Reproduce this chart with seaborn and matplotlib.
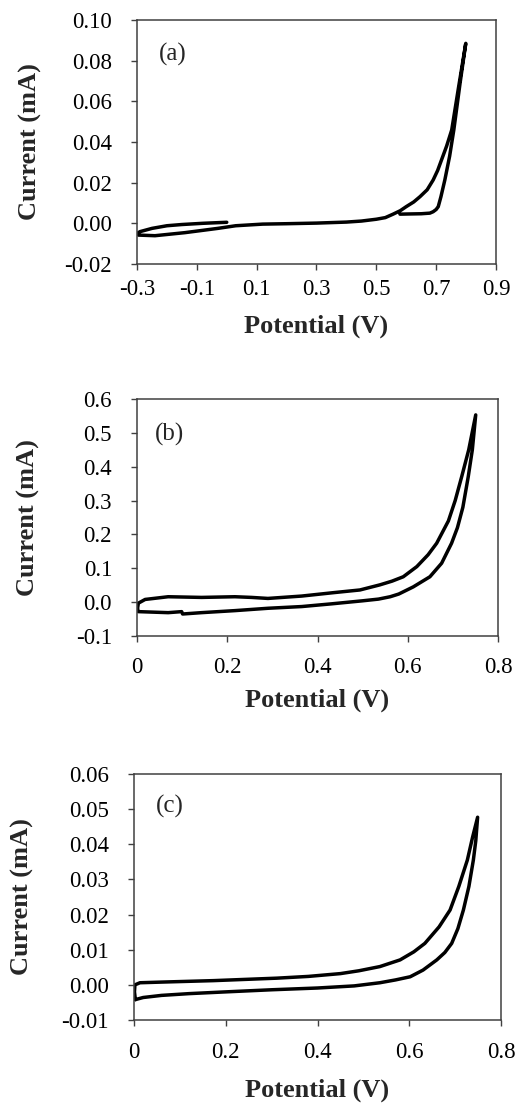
import matplotlib
matplotlib.use("Agg")
import matplotlib.pyplot as plt
import seaborn as sns
import pandas as pd

# cyclic voltammograms (potential in V, current in mA)
pot_a = [0.00, -0.08, -0.15, -0.20, -0.25, -0.29, -0.30,
         -0.295, -0.24, -0.14, -0.03, 0.03, 0.12, 0.20, 0.30, 0.40, 0.45, 0.50, 0.53,
         0.556, 0.58, 0.60, 0.625, 0.646, 0.67, 0.69, 0.705, 0.72, 0.735, 0.752, 0.775, 0.799,
         0.78, 0.759, 0.745, 0.729, 0.716, 0.707, 0.700, 0.690, 0.679, 0.65, 0.612, 0.579]
cur_a = [0.0005, 0.0000, -0.0006, -0.0012, -0.0025, -0.0041, -0.0050,
         -0.0058, -0.0061, -0.0046, -0.0025, -0.0012, -0.0004, -0.0002, 0.0001, 0.0006, 0.0011, 0.0020, 0.0028,
         0.0045, 0.0062, 0.0082, 0.0105, 0.0131, 0.0165, 0.0213, 0.0260, 0.0320, 0.0380, 0.0459, 0.0670, 0.0885,
         0.0690, 0.0459, 0.0330, 0.0213, 0.0131, 0.0082, 0.0068, 0.0057, 0.0050, 0.0047, 0.0046, 0.0045]

pot_b = [0.001, 0.003, 0.069, 0.099, 0.101, 0.143, 0.217, 0.291, 0.365, 0.431, 0.50, 0.535, 0.561, 0.58, 0.612,
         0.649, 0.675, 0.697, 0.71, 0.722, 0.734, 0.743, 0.7505,
         0.735, 0.7195, 0.705, 0.69, 0.664, 0.645, 0.62, 0.59, 0.565, 0.538, 0.494, 0.435, 0.365, 0.29, 0.254,
         0.217, 0.143, 0.069, 0.018, 0.003, 0.001]
cur_b = [-0.020, -0.028, -0.031, -0.028, -0.035, -0.031, -0.025, -0.018, -0.013, -0.005, 0.004, 0.009, 0.016, 0.024, 0.045,
         0.075, 0.115, 0.174, 0.220, 0.280, 0.371, 0.450, 0.553,
         0.450, 0.371, 0.300, 0.240, 0.174, 0.140, 0.105, 0.075, 0.062, 0.051, 0.036, 0.028, 0.018, 0.011, 0.014,
         0.016, 0.014, 0.016, 0.008, -0.003, -0.020]

pot_c = [0.003, 0.02, 0.06, 0.12, 0.20, 0.30, 0.40, 0.48, 0.536, 0.57, 0.602, 0.63, 0.66, 0.6775, 0.6925, 0.706,
         0.718, 0.73, 0.7397, 0.745, 0.749,
         0.738, 0.7266, 0.708, 0.689, 0.665, 0.634, 0.61, 0.58, 0.536, 0.49, 0.45, 0.38, 0.311, 0.173, 0.064,
         0.013, 0.002, 0.001, 0.003]
cur_c = [-0.0042, -0.0036, -0.0030, -0.0025, -0.0020, -0.0014, -0.0009, -0.0003, 0.0006, 0.0014, 0.0023, 0.0042,
         0.0071, 0.0092, 0.0118, 0.0160, 0.0213, 0.0280, 0.0355, 0.0410, 0.0477,
         0.0420, 0.0355, 0.0280, 0.0213, 0.0165, 0.0118, 0.0094, 0.0071, 0.0052, 0.0040, 0.0032, 0.0024, 0.0019,
         0.0012, 0.0008, 0.0006, 0.0000, -0.0020, -0.0042]

xticks_a = [-0.3, -0.1, 0.1, 0.3, 0.5, 0.7, 0.9]
xlabels_a = ["-0.3", "-0.1", "0.1", "0.3", "0.5", "0.7", "0.9"]
yticks_a = [-0.02, 0.00, 0.02, 0.04, 0.06, 0.08, 0.10]
ylabels_a = ["-0.02", "0.00", "0.02", "0.04", "0.06", "0.08", "0.10"]

xticks_bc = [0, 0.2, 0.4, 0.6, 0.8]
xlabels_bc = ["0", "0.2", "0.4", "0.6", "0.8"]
yticks_b = [-0.1, 0.0, 0.1, 0.2, 0.3, 0.4, 0.5, 0.6]
ylabels_b = ["-0.1", "0.0", "0.1", "0.2", "0.3", "0.4", "0.5", "0.6"]
yticks_c = [-0.01, 0.00, 0.01, 0.02, 0.03, 0.04, 0.05, 0.06]
ylabels_c = ["-0.01", "0.00", "0.01", "0.02", "0.03", "0.04", "0.05", "0.06"]

sns.set_theme(style="ticks")
plt.rcParams['font.family'] = ['Liberation Serif', 'DejaVu Serif']
plt.rcParams['axes.unicode_minus'] = False

fig = plt.figure(figsize=(5.18, 11.04), dpi=100)

# tag, data, axes rect, ticks, tag position, x tick pad, xlabel pad, ylabel right edge (px)
panels = [
    ("(a)", pot_a, cur_a, [0.2645, 0.7609, 0.693, 0.221], xticks_a, xlabels_a, yticks_a, ylabels_a,
     (0.06, 0.86), 7, 10, 42),
    ("(b)", pot_b, cur_b, [0.2645, 0.4239, 0.697, 0.2147], xticks_bc, xlabels_bc, yticks_b, ylabels_b,
     (0.05, 0.85), 11, 8, 40),
    ("(c)", pot_c, cur_c, [0.2587, 0.0761, 0.7085, 0.2228], xticks_bc, xlabels_bc, yticks_c, ylabels_c,
     (0.06, 0.87), 12, 11, 34),
]

for tag, px, cy, rect, xt, xl, yt, yl, tpos, xpad, xlpad, ylx in panels:
    ax = fig.add_axes(rect)
    df = pd.DataFrame({"Potential": px, "Current": cy})
    sns.lineplot(data=df, x="Potential", y="Current", sort=False, estimator=None,
                 color="black", lw=2.5, ax=ax, solid_joinstyle="round", solid_capstyle="round")
    ax.set_xlim(xt[0], xt[-1])
    ax.set_ylim(yt[0], yt[-1])
    ax.set_xticks(xt)
    ax.set_xticklabels(xl)
    ax.set_yticks(yt)
    ax.set_yticklabels(yl)
    ax.tick_params(axis="both", direction="out", length=4, width=1.0, color="#404040",
                   labelsize=16.5, labelcolor="black")
    ax.tick_params(axis="y", pad=14)
    ax.tick_params(axis="x", pad=xpad)
    for sp in ax.spines.values():
        sp.set_visible(True)
        sp.set_color("#404040")
        sp.set_linewidth(1.1)
    ax.set_xlabel("Potential (V)", fontsize=19, fontweight="bold", labelpad=xlpad)
    ax.set_ylabel("Current (mA)", fontsize=19, fontweight="bold")
    ax.yaxis.set_label_coords(ylx / 518, rect[1] + rect[3] / 2, transform=fig.transFigure)
    ax.text(tpos[0], tpos[1], tag, transform=ax.transAxes, fontsize=18, va="center", ha="left")

fig.savefig("out.png", dpi=100, facecolor="white")
